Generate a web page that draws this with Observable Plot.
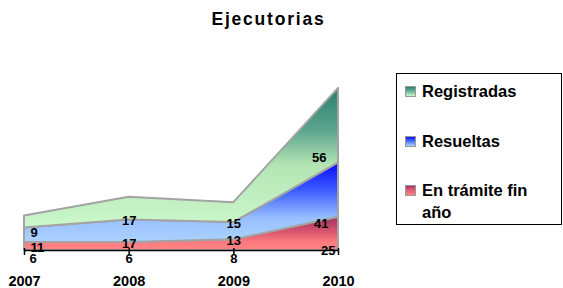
<!DOCTYPE html>
<html>
<head>
<meta charset="utf-8">
<script src="https://cdn.jsdelivr.net/npm/d3@7"></script>
<script src="https://cdn.jsdelivr.net/npm/@observablehq/plot@0.6"></script>
<style>
  html, body { margin: 0; padding: 0; background: #fff; }
  #wrap { position: relative; width: 563px; height: 288px; overflow: hidden; font-family: "Liberation Sans", Arial, sans-serif; }
  #title { position: absolute; left: 0; width: 537px; top: 9px; text-align: center; font-weight: bold; font-size: 17.5px; letter-spacing: 1.8px; color: #000; }
  #legend { position: absolute; left: 396px; top: 73px; width: 166px; height: 152px; border: 1.5px solid #000; box-sizing: border-box; }
  .item { position: absolute; left: 8px; font-weight: bold; font-size: 16.5px; line-height: 22px; color: #000; }
  .sw { position: absolute; left: 0; top: 6px; width: 9px; height: 9px; border: 1.5px solid #999; }
  .lab { position: absolute; left: 17px; width: 125px; }
  svg { position: absolute; left: 0; top: 0; }
</style>
</head>
<body>
<div id="wrap">
  <div id="title">Ejecutorias</div>
  <div id="legend"></div>
</div>
<script>
const years = [2007, 2008, 2009, 2010];
const series = ["En trámite fin año", "Resueltas", "Registradas"];
const enTramite = [6, 6, 8, 25];
const resueltas = [11, 17, 13, 41];
const registradas = [9, 17, 15, 56];
const legendOrder = ["Registradas", "Resueltas", "En trámite fin año"];

const gradients = {
  "En trámite fin año": [["0", "#a03060"], ["0.45", "#d8566e"], ["0.75", "#fc7a7e"], ["1", "#ff8484"]],
  "Resueltas": [["0", "#0a0aff"], ["0.35", "#3c5cff"], ["0.7", "#98c0ff"], ["1", "#acd2ff"]],
  "Registradas": [["0", "#2a8070"], ["0.3", "#5aa48c"], ["0.55", "#b4e4b4"], ["1", "#ccf8cc"]]
};
const gradId = {"En trámite fin año": "gRed", "Resueltas": "gBlue", "Registradas": "gGreen"};

const valuesBySeries = {"En trámite fin año": enTramite, "Resueltas": resueltas, "Registradas": registradas};
const data = [];
series.forEach(s => years.forEach((y, i) => data.push({year: y, series: s, value: valuesBySeries[s][i]})));

const base = {x: "year", y: "value", z: "series", order: series};
const isRed = d => d.series === series[0];

function labels(test, opts) {
  return Plot.text(data, Plot.filter(test, Plot.stackY1({...base, text: "value", fontSize: 13, fontWeight: "bold", fill: "#000", ...opts})));
}

const chart = Plot.plot({
  width: 563,
  height: 288,
  marginLeft: 24,
  marginRight: 225,
  marginTop: 64,
  marginBottom: 38,
  style: {fontFamily: "'Liberation Sans', Arial, sans-serif", background: "transparent", overflow: "visible"},
  x: {domain: [2007, 2010], ticks: years, tickFormat: d => String(d), label: null},
  y: {domain: [0, 140], axis: null},
  color: {domain: series, range: series.map(s => `url(#${gradId[s]})`)},
  marks: [
    Plot.areaY(data, Plot.stackY({...base, fill: "series", stroke: "#a3a3a3", strokeWidth: 2, curve: "linear"})),
    Plot.ruleY([0], {stroke: "#000", strokeWidth: 1.5}),
    Plot.axisX({ticks: years, tickFormat: d => String(d), label: null, tickSize: 7, dy: -2, tickPadding: 20, fontSize: 14.5, fontWeight: "bold", stroke: "#000", strokeWidth: 1.5, fill: "#000"}),
    // middle years
    labels(d => (d.year === 2008 || d.year === 2009) && isRed(d), {dy: 8}),
    labels(d => (d.year === 2008 || d.year === 2009) && !isRed(d), {dy: 1}),
    // first year
    labels(d => d.year === 2007 && isRed(d), {dy: 8, textAnchor: "start", dx: 5}),
    labels(d => d.year === 2007 && !isRed(d), {dy: 5, textAnchor: "start", dx: 6}),
    // last year
    labels(d => d.year === 2010 && isRed(d), {dy: 0, textAnchor: "end", dx: -3}),
    labels(d => d.year === 2010 && d.series === "Resueltas", {dy: 7, textAnchor: "end", dx: -10}),
    labels(d => d.year === 2010 && d.series === "Registradas", {dy: -5, textAnchor: "end", dx: -12})
  ]
});

// gradient definitions
const ns = "http://www.w3.org/2000/svg";
const defs = document.createElementNS(ns, "defs");
function addGrad(id, stops) {
  const g = document.createElementNS(ns, "linearGradient");
  g.setAttribute("id", id);
  g.setAttribute("x1", "0"); g.setAttribute("y1", "0");
  g.setAttribute("x2", "0"); g.setAttribute("y2", "1");
  stops.forEach(([o, c]) => {
    const st = document.createElementNS(ns, "stop");
    st.setAttribute("offset", o);
    st.setAttribute("stop-color", c);
    g.appendChild(st);
  });
  defs.appendChild(g);
}
series.forEach(s => addGrad(gradId[s], gradients[s]));
chart.insertBefore(defs, chart.firstChild);
document.getElementById("wrap").appendChild(chart);

// legend
const legend = document.getElementById("legend");
const rowTops = [6, 56, 105];
legendOrder.forEach((s, i) => {
  const item = document.createElement("div");
  item.className = "item";
  item.style.top = rowTops[i] + "px";
  const sw = document.createElement("div");
  sw.className = "sw";
  const st = gradients[s];
  sw.style.background = `linear-gradient(to bottom, ${st[0][1]}, ${st[1][1]} 35%, ${st[3][1]})`;
  const lab = document.createElement("div");
  lab.className = "lab";
  lab.textContent = s;
  item.appendChild(sw);
  item.appendChild(lab);
  legend.appendChild(item);
});
</script>
</body>
</html>
